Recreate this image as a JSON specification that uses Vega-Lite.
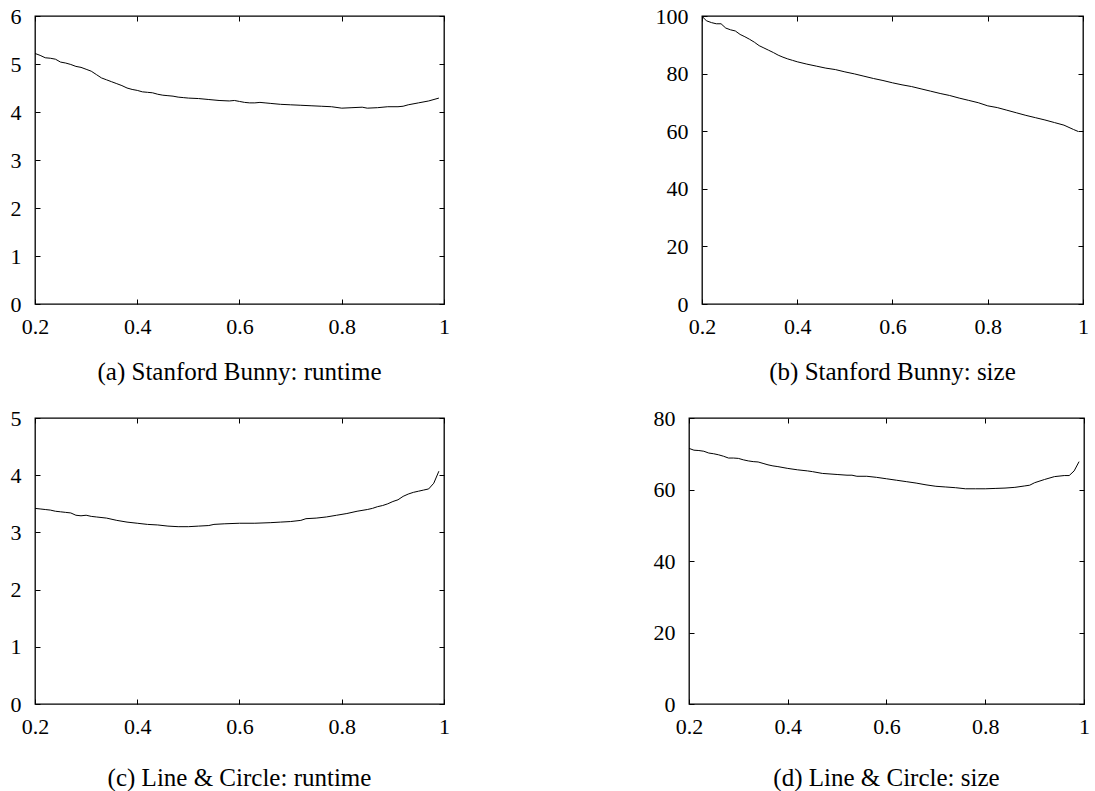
{
  "$schema": "https://vega.github.io/schema/vega-lite/v6.json",
  "background": "white",
  "padding": {"left": 9, "top": 4, "right": 0, "bottom": 0},
  "spacing": 20,
  "config": {
    "font": "Liberation Serif",
    "view": {"stroke": "black", "strokeWidth": 1.3},
    "axis": {"domain": false, "grid": false, "ticks": true, "tickColor": "black", "tickSize": -5, "tickWidth": 1, "labelFont": "Liberation Serif", "labelFontSize": 22, "labelColor": "black", "labelFlush": false, "labelOverlap": false, "title": null},
    "axisX": {"labelFont": "Liberation Serif", "labelPadding": 17},
    "axisY": {"labelFont": "Liberation Serif", "labelPadding": 19},
    "title": {"font": "Liberation Serif", "fontSize": 25, "fontWeight": "normal", "color": "black", "orient": "bottom", "offset": 23},
    "line": {"color": "black", "strokeWidth": 1}
  },
  "vconcat": [
    {
      "spacing": 203,
      "hconcat": [
        {
          "width": 409, "height": 288,
          "title": "(a) Stanford Bunny: runtime",
          "data": {"values": [
            {"x":0.20,"y":5.22},{"x":0.21,"y":5.18},{"x":0.22,"y":5.13},{"x":0.23,"y":5.12},{"x":0.24,"y":5.10},{"x":0.25,"y":5.04},{"x":0.26,"y":5.02},{"x":0.27,"y":4.99},{"x":0.28,"y":4.95},{"x":0.29,"y":4.93},{"x":0.30,"y":4.89},{"x":0.31,"y":4.85},{"x":0.32,"y":4.78},{"x":0.33,"y":4.71},{"x":0.34,"y":4.67},{"x":0.35,"y":4.63},{"x":0.36,"y":4.59},{"x":0.37,"y":4.55},{"x":0.38,"y":4.50},{"x":0.39,"y":4.47},{"x":0.40,"y":4.45},{"x":0.41,"y":4.42},{"x":0.42,"y":4.41},{"x":0.43,"y":4.40},{"x":0.44,"y":4.37},{"x":0.45,"y":4.35},{"x":0.46,"y":4.34},{"x":0.47,"y":4.33},{"x":0.48,"y":4.31},{"x":0.49,"y":4.30},{"x":0.50,"y":4.29},{"x":0.52,"y":4.28},{"x":0.54,"y":4.26},{"x":0.56,"y":4.24},{"x":0.58,"y":4.23},{"x":0.59,"y":4.24},{"x":0.60,"y":4.22},{"x":0.61,"y":4.20},{"x":0.62,"y":4.19},{"x":0.63,"y":4.19},{"x":0.64,"y":4.20},{"x":0.65,"y":4.19},{"x":0.66,"y":4.18},{"x":0.68,"y":4.16},{"x":0.70,"y":4.15},{"x":0.72,"y":4.14},{"x":0.74,"y":4.13},{"x":0.76,"y":4.12},{"x":0.78,"y":4.11},{"x":0.80,"y":4.08},{"x":0.82,"y":4.09},{"x":0.84,"y":4.10},{"x":0.85,"y":4.08},{"x":0.87,"y":4.09},{"x":0.89,"y":4.11},{"x":0.91,"y":4.11},{"x":0.92,"y":4.12},{"x":0.93,"y":4.15},{"x":0.95,"y":4.19},{"x":0.97,"y":4.23},{"x":0.99,"y":4.29}
          ]},
          "layer": [
            {"mark": "line",
             "encoding": {
               "x": {"field": "x", "type": "quantitative", "scale": {"domain": [0.2, 1]}, "axis": {"orient": "bottom", "values": [0.2, 0.4, 0.6, 0.8, 1], "format": "~g", "labelFont": "Liberation Serif"}},
               "y": {"field": "y", "type": "quantitative", "scale": {"domain": [0, 6]}, "axis": {"orient": "left", "values": [0, 1, 2, 3, 4, 5, 6], "labelFont": "Liberation Serif"}}
             }},
            {"mark": {"type": "line", "strokeOpacity": 0},
             "encoding": {
               "x": {"field": "x", "type": "quantitative", "axis": {"orient": "top", "labels": false, "values": [0.2, 0.4, 0.6, 0.8, 1]}},
               "y": {"field": "y", "type": "quantitative", "axis": {"orient": "right", "labels": false, "values": [0, 1, 2, 3, 4, 5, 6]}}
             }}
          ],
          "resolve": {"axis": {"x": "independent", "y": "independent"}}
        },
        {
          "width": 381, "height": 288,
          "title": "(b) Stanford Bunny: size",
          "data": {"values": [
            {"x":0.20,"y":100},{"x":0.205,"y":99.0},{"x":0.21,"y":98.3},{"x":0.22,"y":97.7},{"x":0.23,"y":97.3},{"x":0.24,"y":97.3},{"x":0.25,"y":95.8},{"x":0.26,"y":95.2},{"x":0.27,"y":94.8},{"x":0.28,"y":93.6},{"x":0.29,"y":92.8},{"x":0.30,"y":91.9},{"x":0.31,"y":90.9},{"x":0.32,"y":89.7},{"x":0.33,"y":88.9},{"x":0.34,"y":88.1},{"x":0.35,"y":87.3},{"x":0.36,"y":86.4},{"x":0.37,"y":85.7},{"x":0.38,"y":85.1},{"x":0.39,"y":84.6},{"x":0.40,"y":84.1},{"x":0.42,"y":83.3},{"x":0.44,"y":82.6},{"x":0.46,"y":81.9},{"x":0.48,"y":81.4},{"x":0.50,"y":80.6},{"x":0.52,"y":79.9},{"x":0.54,"y":79.1},{"x":0.56,"y":78.3},{"x":0.58,"y":77.6},{"x":0.60,"y":76.8},{"x":0.62,"y":76.1},{"x":0.64,"y":75.5},{"x":0.66,"y":74.7},{"x":0.68,"y":73.9},{"x":0.70,"y":73.1},{"x":0.72,"y":72.4},{"x":0.74,"y":71.5},{"x":0.76,"y":70.7},{"x":0.78,"y":69.9},{"x":0.80,"y":68.8},{"x":0.82,"y":68.2},{"x":0.84,"y":67.3},{"x":0.86,"y":66.4},{"x":0.88,"y":65.5},{"x":0.90,"y":64.7},{"x":0.92,"y":63.9},{"x":0.94,"y":63.0},{"x":0.96,"y":62.1},{"x":0.98,"y":60.6},{"x":0.99,"y":59.9}
          ]},
          "layer": [
            {"mark": "line",
             "encoding": {
               "x": {"field": "x", "type": "quantitative", "scale": {"domain": [0.2, 1]}, "axis": {"orient": "bottom", "values": [0.2, 0.4, 0.6, 0.8, 1], "format": "~g", "labelFont": "Liberation Serif"}},
               "y": {"field": "y", "type": "quantitative", "scale": {"domain": [0, 100]}, "axis": {"orient": "left", "values": [0, 20, 40, 60, 80, 100], "labelFont": "Liberation Serif"}}
             }},
            {"mark": {"type": "line", "strokeOpacity": 0},
             "encoding": {
               "x": {"field": "x", "type": "quantitative", "axis": {"orient": "top", "labels": false, "values": [0.2, 0.4, 0.6, 0.8, 1]}},
               "y": {"field": "y", "type": "quantitative", "axis": {"orient": "right", "labels": false, "values": [0, 20, 40, 60, 80, 100]}}
             }}
          ],
          "resolve": {"axis": {"x": "independent", "y": "independent"}}
        }
      ]
    },
    {
      "spacing": 201,
      "hconcat": [
        {
          "width": 409, "height": 286,
          "title": {"text": "(c) Line & Circle: runtime", "offset": 29},
          "data": {"values": [
            {"x":0.20,"y":3.42},{"x":0.21,"y":3.41},{"x":0.22,"y":3.40},{"x":0.23,"y":3.39},{"x":0.24,"y":3.37},{"x":0.25,"y":3.36},{"x":0.26,"y":3.35},{"x":0.27,"y":3.34},{"x":0.28,"y":3.30},{"x":0.29,"y":3.29},{"x":0.30,"y":3.30},{"x":0.31,"y":3.28},{"x":0.32,"y":3.27},{"x":0.34,"y":3.25},{"x":0.36,"y":3.21},{"x":0.38,"y":3.18},{"x":0.40,"y":3.16},{"x":0.42,"y":3.14},{"x":0.44,"y":3.13},{"x":0.46,"y":3.11},{"x":0.48,"y":3.10},{"x":0.50,"y":3.10},{"x":0.52,"y":3.11},{"x":0.54,"y":3.12},{"x":0.55,"y":3.14},{"x":0.57,"y":3.15},{"x":0.60,"y":3.16},{"x":0.63,"y":3.16},{"x":0.66,"y":3.17},{"x":0.68,"y":3.18},{"x":0.70,"y":3.19},{"x":0.72,"y":3.21},{"x":0.73,"y":3.24},{"x":0.75,"y":3.25},{"x":0.77,"y":3.27},{"x":0.79,"y":3.30},{"x":0.81,"y":3.33},{"x":0.83,"y":3.37},{"x":0.85,"y":3.40},{"x":0.86,"y":3.42},{"x":0.87,"y":3.45},{"x":0.88,"y":3.47},{"x":0.89,"y":3.50},{"x":0.90,"y":3.54},{"x":0.91,"y":3.57},{"x":0.92,"y":3.63},{"x":0.93,"y":3.67},{"x":0.94,"y":3.70},{"x":0.95,"y":3.72},{"x":0.96,"y":3.74},{"x":0.97,"y":3.76},{"x":0.98,"y":3.86},{"x":0.99,"y":4.07}
          ]},
          "layer": [
            {"mark": "line",
             "encoding": {
               "x": {"field": "x", "type": "quantitative", "scale": {"domain": [0.2, 1]}, "axis": {"orient": "bottom", "values": [0.2, 0.4, 0.6, 0.8, 1], "format": "~g", "labelFont": "Liberation Serif"}},
               "y": {"field": "y", "type": "quantitative", "scale": {"domain": [0, 5]}, "axis": {"orient": "left", "values": [0, 1, 2, 3, 4, 5], "labelFont": "Liberation Serif"}}
             }},
            {"mark": {"type": "line", "strokeOpacity": 0},
             "encoding": {
               "x": {"field": "x", "type": "quantitative", "axis": {"orient": "top", "labels": false, "values": [0.2, 0.4, 0.6, 0.8, 1]}},
               "y": {"field": "y", "type": "quantitative", "axis": {"orient": "right", "labels": false, "values": [0, 1, 2, 3, 4, 5]}}
             }}
          ],
          "resolve": {"axis": {"x": "independent", "y": "independent"}}
        },
        {
          "width": 395, "height": 286,
          "title": {"text": "(d) Line & Circle: size", "offset": 29},
          "data": {"values": [
            {"x":0.20,"y":71.5},{"x":0.21,"y":71.0},{"x":0.22,"y":70.9},{"x":0.23,"y":70.7},{"x":0.24,"y":70.2},{"x":0.25,"y":70.0},{"x":0.26,"y":69.7},{"x":0.27,"y":69.3},{"x":0.28,"y":68.8},{"x":0.29,"y":68.8},{"x":0.30,"y":68.7},{"x":0.31,"y":68.3},{"x":0.32,"y":68.0},{"x":0.33,"y":67.8},{"x":0.34,"y":67.7},{"x":0.35,"y":67.3},{"x":0.36,"y":66.9},{"x":0.37,"y":66.6},{"x":0.38,"y":66.4},{"x":0.40,"y":65.9},{"x":0.42,"y":65.5},{"x":0.44,"y":65.2},{"x":0.45,"y":65.0},{"x":0.47,"y":64.5},{"x":0.50,"y":64.2},{"x":0.52,"y":64.0},{"x":0.53,"y":64.0},{"x":0.54,"y":63.7},{"x":0.56,"y":63.7},{"x":0.58,"y":63.4},{"x":0.60,"y":63.0},{"x":0.62,"y":62.6},{"x":0.64,"y":62.2},{"x":0.66,"y":61.8},{"x":0.68,"y":61.3},{"x":0.70,"y":60.9},{"x":0.72,"y":60.7},{"x":0.74,"y":60.5},{"x":0.76,"y":60.2},{"x":0.78,"y":60.2},{"x":0.80,"y":60.2},{"x":0.82,"y":60.3},{"x":0.84,"y":60.4},{"x":0.86,"y":60.6},{"x":0.88,"y":61.0},{"x":0.89,"y":61.2},{"x":0.90,"y":61.9},{"x":0.92,"y":62.8},{"x":0.94,"y":63.6},{"x":0.96,"y":63.9},{"x":0.97,"y":63.9},{"x":0.98,"y":65.2},{"x":0.99,"y":67.8}
          ]},
          "layer": [
            {"mark": "line",
             "encoding": {
               "x": {"field": "x", "type": "quantitative", "scale": {"domain": [0.2, 1]}, "axis": {"orient": "bottom", "values": [0.2, 0.4, 0.6, 0.8, 1], "format": "~g", "labelFont": "Liberation Serif"}},
               "y": {"field": "y", "type": "quantitative", "scale": {"domain": [0, 80]}, "axis": {"orient": "left", "values": [0, 20, 40, 60, 80], "labelFont": "Liberation Serif"}}
             }},
            {"mark": {"type": "line", "strokeOpacity": 0},
             "encoding": {
               "x": {"field": "x", "type": "quantitative", "axis": {"orient": "top", "labels": false, "values": [0.2, 0.4, 0.6, 0.8, 1]}},
               "y": {"field": "y", "type": "quantitative", "axis": {"orient": "right", "labels": false, "values": [0, 20, 40, 60, 80]}}
             }}
          ],
          "resolve": {"axis": {"x": "independent", "y": "independent"}}
        }
      ]
    }
  ]
}
